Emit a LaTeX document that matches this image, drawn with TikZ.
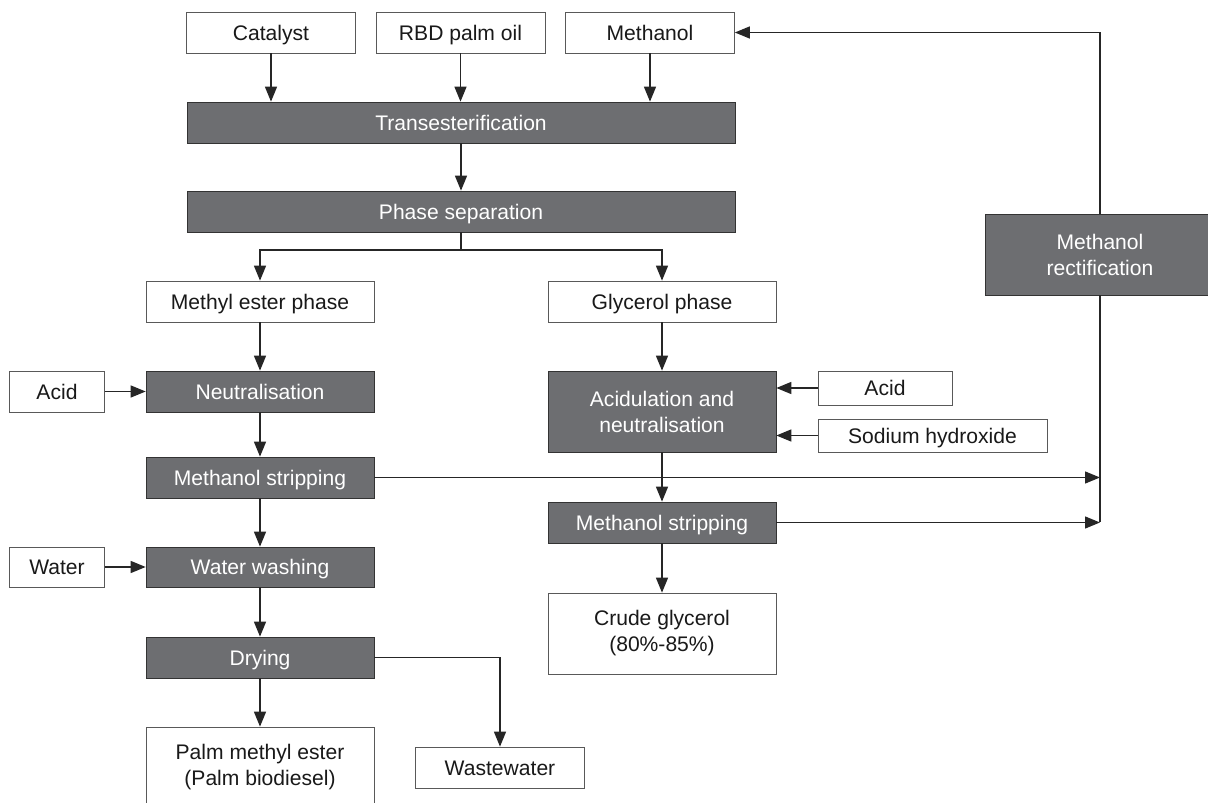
\documentclass[tikz,border=0pt]{standalone}
\usepackage{fontspec}
\setmainfont{Liberation Sans}
\usetikzlibrary{arrows.meta}

\definecolor{procgray}{RGB}{109,110,113}

\begin{document}
\begin{tikzpicture}[x = 0.02cm, y = -0.02cm,
        box/.style = {draw, inner sep = 0pt, minimum height = 8.2mm, align = center,
                      font = \fontsize{12}{14.8}\selectfont},
        light/.style = {box, draw = black!65, fill = white, text = black!90},
        dark/.style = {box, draw = black!80, fill = procgray, text = white},
        one/.style = {text height = 3.1mm, text depth = 0pt},
        feed/.style = {light, one},
        proc/.style = {dark, one},
        flow/.style = {-{Triangle[length = 3mm, width = 2.4mm]}, line width = 0.8pt, draw = black!85},
        line/.style = {line width = 0.8pt, draw = black!85}]
    \clip (0, 0) rectangle (1208, 803);

    % raw materials
    \node[feed, minimum width = 33.8mm] (cat) at (271, 32.5) {Catalyst};
    \node[feed, minimum width = 33.8mm] (rbd) at (460.5, 32.5) {RBD palm oil};
    \node[feed, minimum width = 33.8mm] (meoh) at (650, 32.5) {Methanol};

    \node[proc, minimum width = 109.6mm] (trans) at (461, 122.5) {Transesterification};
    \node[proc, minimum width = 109.6mm] (phsep) at (461, 211.5) {Phase separation};

    % methyl ester line
    \node[feed, minimum width = 45.6mm] (mep) at (260, 301.5) {Methyl ester phase};
    \node[feed, minimum width = 18.9mm] (acidl) at (57, 391.5) {Acid};
    \node[proc, minimum width = 45.6mm] (neut) at (260, 391.5) {Neutralisation};
    \node[proc, minimum width = 45.6mm] (stripl) at (260, 477.5) {Methanol stripping};
    \node[feed, minimum width = 18.9mm, minimum height = 8mm] (water) at (57, 567) {Water};
    \node[proc, minimum width = 45.6mm, minimum height = 8mm] (wash) at (260, 567) {Water washing};
    \node[proc, minimum width = 45.6mm] (dry) at (260, 657.5) {Drying};
    \node[light, minimum width = 45.6mm, minimum height = 16.2mm] (pme) at (260, 767.5) {Palm methyl ester\\(Palm biodiesel)};
    \node[feed, minimum width = 33.9mm] (ww) at (500, 767.5) {Wastewater};

    % glycerol line
    \node[feed, minimum width = 45.6mm] (glyp) at (662, 301.5) {Glycerol phase};
    \node[dark, minimum width = 45.6mm, minimum height = 16.2mm] (acidneut) at (662, 411.5) {Acidulation and\\neutralisation};
    \node[feed, minimum width = 26.8mm, minimum height = 6.8mm] (acidr) at (885, 388) {Acid};
    \node[feed, minimum width = 45.8mm, minimum height = 6.6mm] (naoh) at (932.5, 435.5) {Sodium hydroxide};
    \node[proc, minimum width = 45.6mm] (stripr) at (662, 522.5) {Methanol stripping};
    \node[light, minimum width = 45.6mm, minimum height = 16.2mm] (crude) at (662, 633.5) {Crude glycerol\\(80\%-85\%)};

    % methanol recovery
    \node[dark, minimum width = 46mm, minimum height = 16.2mm] (rect) at (1100, 254.5) {Methanol\\rectification};

    \draw[flow] (cat) -- (cat |- trans.north);
    \draw[flow] (rbd) -- (rbd |- trans.north);
    \draw[flow] (meoh) -- (meoh |- trans.north);
    \draw[flow] (trans) -- (phsep);

    \coordinate (split) at (461, 250);
    \draw[line] (phsep.south) -- (split);
    \draw[flow] (split) -| (mep.north);
    \draw[flow] (split) -| (glyp.north);

    \draw[flow] (mep) -- (neut);
    \draw[flow] (acidl) -- (neut);
    \draw[flow] (neut) -- (stripl);
    \draw[flow] (stripl) -- (wash);
    \draw[flow] (water) -- (wash);
    \draw[flow] (wash) -- (dry);
    \draw[flow] (dry) -- (pme);
    \draw[flow] (dry.east) -| (ww.north);

    \draw[flow] (glyp) -- (acidneut);
    \draw[flow] (acidr.west) -- (acidr.west -| acidneut.east);
    \draw[flow] (naoh.west) -- (naoh.west -| acidneut.east);
    \draw[flow] (acidneut) -- (stripr);
    \draw[flow] (stripr) -- (crude);

    \coordinate (rbot) at (rect.south |- stripr.east);
    \draw[flow] (stripl.east) -- (stripl.east -| rect.south);
    \draw[flow] (stripr.east) -- (rbot);
    \draw[line] (rect.south) -- (rbot);
    \draw[flow] (rect.north) |- (meoh.east);
\end{tikzpicture}
\end{document}
